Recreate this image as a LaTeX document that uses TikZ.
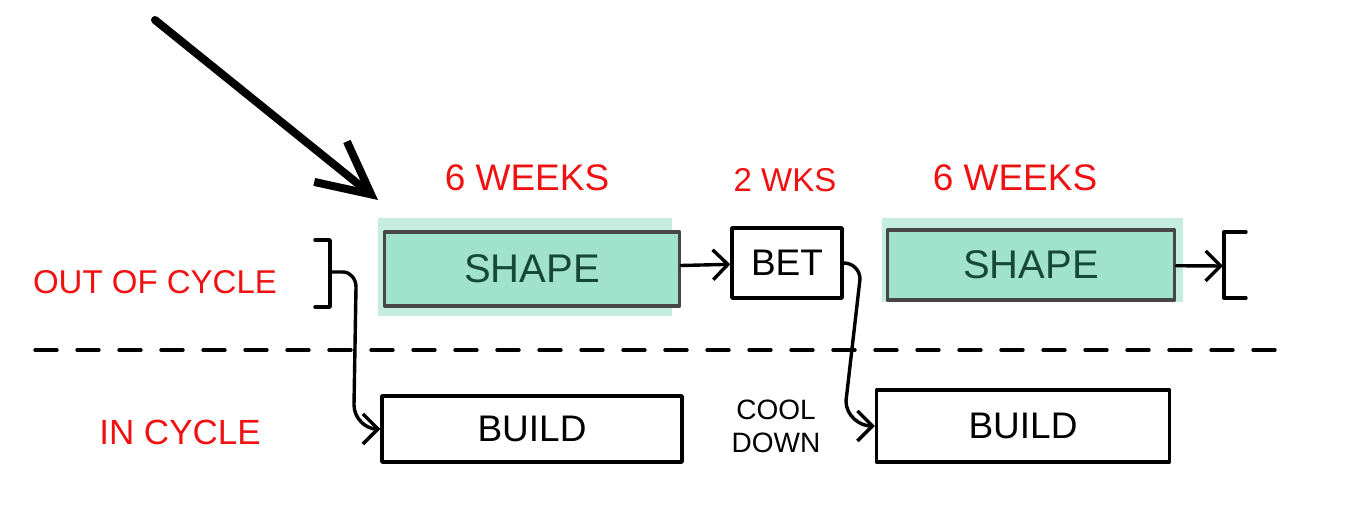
\documentclass[tikz,border=0pt]{standalone}
\usepackage{fontspec}
\setmainfont{Liberation Sans}
\usetikzlibrary{arrows.meta}

\definecolor{inkred}{RGB}{240,18,18}
\definecolor{shapegreen}{RGB}{161,226,205}
\definecolor{halogreen}{RGB}{196,237,224}
\definecolor{inkgreen}{RGB}{22,72,56}

\begin{document}
\begin{tikzpicture}[x=1pt, y=1pt,
  >={Straight Barb[length=15pt,width=30pt]},
  ink/.style={line width=3.4pt, line cap=round, line join=round},
  redlbl/.style={text=inkred, font=\fontsize{33}{38}\selectfont},
  shapebox/.style={ink, draw=black!72, fill=shapegreen, text=inkgreen, font=\fontsize{40}{44}\selectfont, inner sep=0pt},
  plainbox/.style={ink, draw=black, fill=white, font=\fontsize{37}{40}\selectfont, inner sep=0pt}]
  \useasboundingbox (0,0) rectangle (1345,505);

  % Halos behind the shaping boxes
  \fill[halogreen] (378,287) rectangle (672,189);
  \fill[halogreen] (882,287) rectangle (1183,203);

  % Boxes
  \node[shapebox, minimum width=295, minimum height=74] (shapeA) at (532,236) {SHAPE};
  \node[plainbox, minimum width=110, minimum height=70] (bet) at (787,242) {BET};
  \node[shapebox, minimum width=287, minimum height=70] (shapeB) at (1031,240) {SHAPE};
  \node[plainbox, minimum width=300, minimum height=66] (buildA) at (532,76) {BUILD};
  \node[plainbox, minimum width=293, minimum height=72] (buildB) at (1023,79) {BUILD};
  \node[font=\fontsize{28}{33}\selectfont, align=center] (cool) at (776,79) {COOL\\DOWN};

  % Labels
  \node[redlbl, font=\fontsize{37}{40}\selectfont] (weeksA) at (527,327) {6 WEEKS};
  \node[redlbl] (wks) at (785,325) {2 WKS};
  \node[redlbl, font=\fontsize{37}{40}\selectfont] (weeksB) at (1015,327) {6 WEEKS};
  \node[redlbl] (outcyc) at (155,223) {OUT OF CYCLE};
  \node[redlbl, font=\fontsize{35}{38}\selectfont] (incyc) at (180,73) {IN CYCLE};

  % Brackets
  \draw[ink] (315,265) -- (330,265) -- (330,198) -- (315,198);
  \coordinate (brL) at (331,233);
  \draw[ink] (1246,273) -- (1224,273) -- (1224,207) -- (1246,207);
  \coordinate (brR) at (1223,239);

  % Divider
  \coordinate (dashL) at (35,155);
  \coordinate (dashR) at (1278,155);
  \draw[ink, dash pattern=on 22pt off 20pt] (dashL) -- (dashR);

  % Flow
  \draw[ink, ->] (shapeA) -- (bet);
  \draw[ink, ->] (shapeB) -- (brR);
  \draw[ink, ->] (brL) -- (343,233) to[out=0, in=90] (356,218) -- (354,100) to[out=-90, in=180] (buildA.west);
  \draw[ink, ->] (bet.east) to[out=0, in=90] (860,226) -- (846,104) to[out=-90, in=180] (buildB.west);

  % Pointer
  \coordinate (tail) at (155,485);
  \coordinate (aim) at (378,305);
  \draw[line width=8pt, line cap=round, -{Straight Barb[length=52pt,width=52pt]}] (tail) -- (aim);
\end{tikzpicture}
\end{document}
